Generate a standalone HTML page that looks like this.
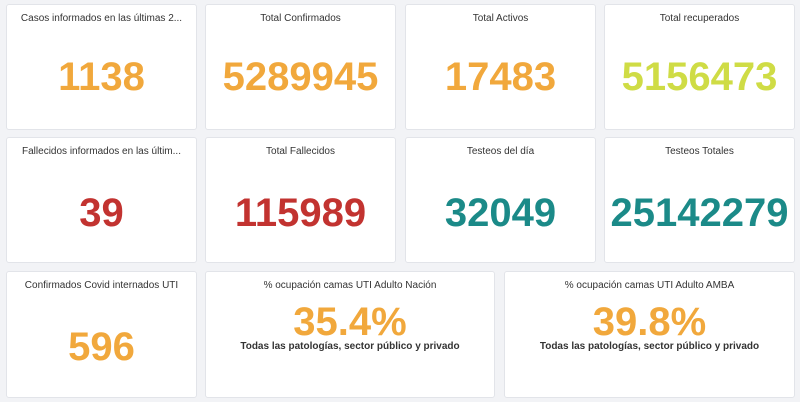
<!DOCTYPE html>
<html><head><style>
body{margin:0;width:800px;height:402px;background:#f2f3f6;font-family:"Liberation Sans",sans-serif;position:relative;overflow:hidden}
.c{position:absolute;background:#fff;border:1px solid #e2e4e9;border-radius:3px;box-sizing:border-box}
.t{position:absolute;top:8px;left:0;right:0;text-align:center;font-size:10px;color:#333;white-space:nowrap;overflow:hidden}
.n{position:absolute;left:0;right:0;text-align:center;font-size:40px;font-weight:bold;letter-spacing:0}
.s{position:absolute;left:0;right:0;text-align:center;font-size:10px;color:#333;font-weight:bold}
.o{color:#f1a83c}.y{color:#cfdc45}.r{color:#c23330}.g{color:#1b8a88}
</style></head><body>
<div class="c" style="left:6px;top:4px;width:191px;height:126px"><div class="t">Casos informados en las últimas 2...</div><div class="n o" style="top:50px">1138</div></div>
<div class="c" style="left:205px;top:4px;width:191px;height:126px"><div class="t">Total Confirmados</div><div class="n o" style="top:50px">5289945</div></div>
<div class="c" style="left:405px;top:4px;width:191px;height:126px"><div class="t">Total Activos</div><div class="n o" style="top:50px">17483</div></div>
<div class="c" style="left:604px;top:4px;width:191px;height:126px"><div class="t">Total recuperados</div><div class="n y" style="top:50px">5156473</div></div>
<div class="c" style="left:6px;top:137px;width:191px;height:126px"><div class="t">Fallecidos informados en las últim...</div><div class="n r" style="top:53px">39</div></div>
<div class="c" style="left:205px;top:137px;width:191px;height:126px"><div class="t">Total Fallecidos</div><div class="n r" style="top:53px">115989</div></div>
<div class="c" style="left:405px;top:137px;width:191px;height:126px"><div class="t">Testeos del día</div><div class="n g" style="top:53px">32049</div></div>
<div class="c" style="left:604px;top:137px;width:191px;height:126px"><div class="t">Testeos Totales</div><div class="n g" style="top:53px">25142279</div></div>
<div class="c" style="left:6px;top:271px;width:191px;height:127px"><div class="t">Confirmados Covid internados UTI</div><div class="n o" style="top:53px">596</div></div>
<div class="c" style="left:205px;top:271px;width:290px;height:127px"><div class="t">% ocupación camas UTI Adulto Nación</div><div class="n o" style="top:28px">35.4%</div><div class="s" style="top:69px">Todas las patologías, sector público y privado</div></div>
<div class="c" style="left:504px;top:271px;width:291px;height:127px"><div class="t">% ocupación camas UTI Adulto AMBA</div><div class="n o" style="top:28px">39.8%</div><div class="s" style="top:69px">Todas las patologías, sector público y privado</div></div>
</body></html>
